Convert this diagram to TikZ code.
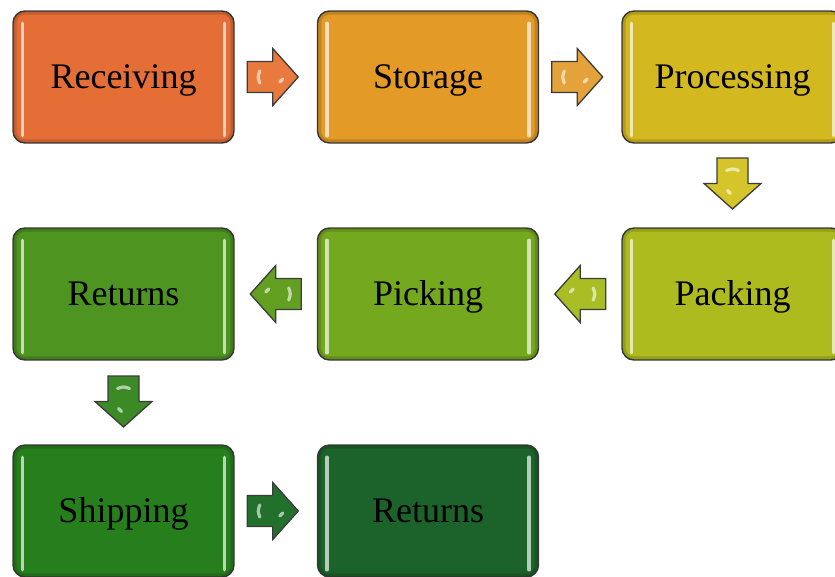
\documentclass[tikz,border=0pt]{standalone}
\usepackage{fontspec}
\setmainfont{Liberation Serif}
\usetikzlibrary{calc}

% stage fills
\definecolor{cRec}{HTML}{E46E36}
\definecolor{cSto}{HTML}{E39A26}
\definecolor{cPro}{HTML}{D3B81F}
\definecolor{cPac}{HTML}{ADBB1F}
\definecolor{cPic}{HTML}{74A81E}
\definecolor{cRetA}{HTML}{4D9420}
\definecolor{cShi}{HTML}{267F1C}
\definecolor{cRetB}{HTML}{1B632B}
% arrow fills
\definecolor{aOne}{HTML}{E87A3E}
\definecolor{aTwo}{HTML}{E4A23A}
\definecolor{aThree}{HTML}{D5C42A}
\definecolor{aFour}{HTML}{A9BE25}
\definecolor{aFive}{HTML}{63A021}
\definecolor{aSix}{HTML}{3B8A26}
\definecolor{aSeven}{HTML}{22702B}
\definecolor{edgegray}{HTML}{3C3C3C}

\tikzset{
  stage/.style={draw=edgegray, line width=1.4pt, rounded corners=12pt,
    minimum width=221pt, minimum height=132pt, inner sep=0pt,
    text height=23pt, text depth=0pt,
    font=\fontsize{36}{40}\selectfont, text=black},
  bevel/.style={black, opacity=0.15, line width=3.5pt, rounded corners=10pt},
  gloss/.style={line width=3.5pt, line cap=round, white, opacity=0.68},
  flowarrow/.style={draw=edgegray, line width=1.3pt, line join=miter},
  glint/.style={white, opacity=0.6, line width=3.2pt, line cap=round},
}

% inner shading and vertical highlights of a stage box
\newcommand\stagegloss[1]{%
  \draw[bevel] ($(#1.north west)+(2.5pt,-2.5pt)$) rectangle ($(#1.south east)+(-2.5pt,2.5pt)$);
  \draw[gloss] ($(#1.north west)+(10pt,-13pt)$) -- ($(#1.south west)+(10pt,8pt)$);
  \draw[gloss] ($(#1.north east)+(-10pt,-13pt)$) -- ($(#1.south east)+(-10pt,8pt)$);
}

% block arrow centred on coordinate #1, turned by #2 degrees, filled with #3
\newcommand\blockarrow[3]{%
  \begin{scope}[shift={(#1)}, rotate=#2]
    \draw[flowarrow, fill=#3] (-25.5pt,-15.5pt) -- (0pt,-15.5pt) -- (0pt,-28.5pt)
      -- (25.5pt,0pt) -- (0pt,28.5pt) -- (0pt,15.5pt) -- (-25.5pt,15.5pt) -- cycle;
    \draw[glint] (-13pt,6pt) .. controls (-15pt,0pt) .. (-13pt,-6pt);
    \draw[glint] (7pt,-5pt) -- (10pt,-2pt);
  \end{scope}}

\begin{document}
\begin{tikzpicture}
  \useasboundingbox (0pt,0pt) rectangle (835pt,-576pt);

  % stages
  \node[stage, fill=cRec]  (rec)  at (123.5pt,-77pt)  {Receiving};
  \node[stage, fill=cSto]  (sto)  at (428pt,-77pt)    {Storage};
  \node[stage, fill=cPro]  (pro)  at (732.5pt,-77pt)  {Processing};
  \node[stage, fill=cPac]  (pac)  at (732.5pt,-294pt) {Packing};
  \node[stage, fill=cPic]  (pic)  at (428pt,-294pt)   {Picking};
  \node[stage, fill=cRetA] (retA) at (123.5pt,-294pt) {Returns};
  \node[stage, fill=cShi]  (shi)  at (123.5pt,-511pt) {Shipping};
  \node[stage, fill=cRetB] (retB) at (428pt,-511pt)   {Returns};

  \foreach \n in {rec,sto,pro,pac,pic,retA,shi,retB} {\stagegloss{\n}}

  % arrow positions between stages
  \coordinate (m1) at ($(rec.east)!0.5!(sto.west)+(-3pt,0pt)$);
  \coordinate (m2) at ($(sto.east)!0.5!(pro.west)+(-3pt,0pt)$);
  \coordinate (m3) at ($(pro.south)!0.5!(pac.north)+(0pt,2pt)$);
  \coordinate (m4) at ($(pac.west)!0.5!(pic.east)$);
  \coordinate (m5) at ($(pic.west)!0.5!(retA.east)$);
  \coordinate (m6) at ($(retA.south)!0.5!(shi.north)+(0pt,1pt)$);
  \coordinate (m7) at ($(shi.east)!0.5!(retB.west)+(-3pt,0pt)$);

  \blockarrow{m1}{0}{aOne}
  \blockarrow{m2}{0}{aTwo}
  \blockarrow{m3}{-90}{aThree}
  \blockarrow{m4}{180}{aFour}
  \blockarrow{m5}{180}{aFive}
  \blockarrow{m6}{-90}{aSix}
  \blockarrow{m7}{0}{aSeven}
\end{tikzpicture}
\end{document}
